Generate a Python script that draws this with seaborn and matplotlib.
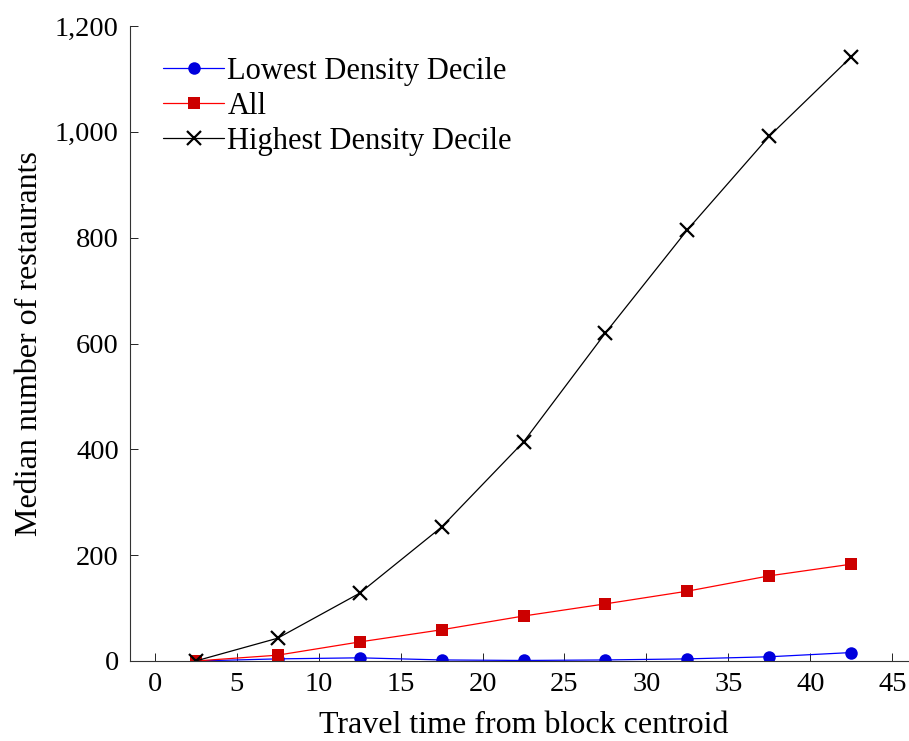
import pandas as pd
import matplotlib
matplotlib.use("Agg")
import matplotlib.pyplot as plt
import seaborn as sns
from matplotlib.ticker import FuncFormatter

# data
travel_time = [2.5, 7.5, 12.5, 17.5, 22.5, 27.5, 32.5, 37.5, 42.5]
lowest = [0, 4, 6, 2, 1, 2, 4, 8, 16]
all_blocks = [0, 11, 36, 59, 85, 108, 132, 161, 183]
highest = [0, 43, 128, 253, 414, 620, 815, 992, 1142]

sns.set_style("ticks")
plt.rcParams["font.family"] = ["Liberation Serif", "DejaVu Serif"]
plt.rcParams["text.color"] = "black"
plt.rcParams["axes.labelcolor"] = "black"

fig = plt.figure(figsize=(9.09, 7.41), dpi=100)
ax = fig.add_axes([130 / 909, (741 - 661) / 741, 787 / 909, (661 - 26) / 741])

sns.lineplot(x=travel_time, y=lowest, ax=ax, color="#0000ff", marker="o",
             markersize=9, markerfacecolor="#0000dd", markeredgecolor="#0000dd",
             markeredgewidth=0, linewidth=0.9, label="Lowest Density Decile")
sns.lineplot(x=travel_time, y=all_blocks, ax=ax, color="#ff0000", marker="s",
             markersize=8.5, markerfacecolor="#cc0000", markeredgecolor="#cc0000",
             markeredgewidth=0, linewidth=0.9, label="All")
sns.lineplot(x=travel_time, y=highest, ax=ax, color="black", marker="x",
             markersize=9.5, markeredgecolor="black", markeredgewidth=1.6,
             linewidth=0.9, label="Highest Density Decile")

ax.set_xlim(-1.5, 46.5)
ax.set_ylim(0, 1200)
ax.set_xticks(range(0, 50, 5))
ax.set_yticks(range(0, 1400, 200))
ax.yaxis.set_major_formatter(FuncFormatter(lambda v, p: f"{int(v):,}"))
ax.tick_params(direction="in", length=6, width=0.6, labelsize=20.5, pad=8,
               colors="black")
for s in ["top", "right"]:
    ax.spines[s].set_visible(False)
for s in ["left", "bottom"]:
    ax.spines[s].set_linewidth(0.8)
    ax.spines[s].set_color("#333333")

ax.set_xlabel("Travel time from block centroid", fontsize=23, labelpad=10)
ax.set_ylabel("Median number of restaurants", fontsize=23, labelpad=8)

ax.legend(loc="upper left", bbox_to_anchor=(0.015, 0.985), frameon=False,
          fontsize=22, handlelength=2.0, handletextpad=0.1,
          labelspacing=0.2, borderaxespad=0.3)

fig.savefig("out.png", dpi=100)
